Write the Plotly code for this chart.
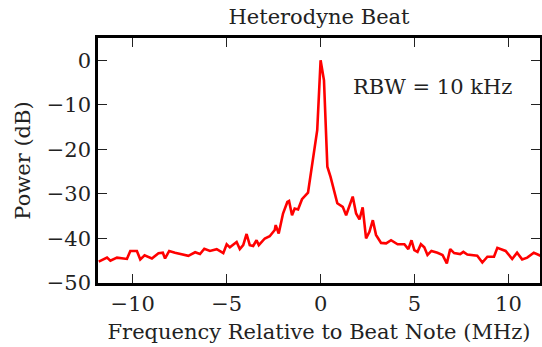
import plotly.graph_objects as go

freq_mhz = [-11.81, -11.37, -11.19, -10.84, -10.31, -10.13, -9.78, -9.60, -9.37, -8.98,
            -8.63, -8.40, -8.28, -8.06, -7.75, -7.04, -6.68, -6.42, -6.19, -5.89,
            -5.53, -5.18, -5.00, -4.83, -4.47, -4.30, -4.12, -3.94, -3.77, -3.59,
            -3.41, -3.29, -2.97, -2.71, -2.44, -2.39, -2.23, -2.00, -1.77, -1.68,
            -1.52, -1.38, -1.20, -0.99, -0.67, -0.18, 0.00, 0.18, 0.36, 0.53,
            0.89, 1.18, 1.36, 1.71, 1.89, 2.07, 2.24, 2.42, 2.60, 2.78,
            2.95, 3.22, 3.49, 3.75, 4.10, 4.46, 4.67, 4.84, 4.99, 5.16,
            5.34, 5.52, 5.69, 5.90, 6.22, 6.49, 6.72, 6.90, 7.11, 7.43,
            7.60, 7.81, 8.34, 8.61, 8.88, 9.23, 9.41, 9.85, 10.20, 10.46,
            10.73, 11.00, 11.35, 11.72]
power_db = [-45.2, -44.3, -45.0, -44.3, -44.6, -42.8, -42.8, -44.7, -43.8, -44.5,
            -43.3, -43.2, -44.5, -42.8, -43.2, -43.9, -43.1, -43.5, -42.3, -42.8,
            -42.4, -43.3, -41.3, -42.0, -40.8, -42.4, -41.5, -39.0, -41.5, -41.7,
            -40.4, -41.5, -40.0, -39.5, -38.1, -37.0, -38.9, -34.4, -31.8, -31.6,
            -34.8, -33.3, -33.5, -31.2, -29.7, -15.7, 0.0, -4.5, -23.9, -26.2,
            -32.1, -32.9, -34.8, -30.6, -34.4, -35.7, -33.0, -40.0, -38.5, -35.9,
            -39.2, -41.0, -41.1, -40.4, -41.3, -41.3, -42.4, -40.4, -42.6, -43.0,
            -41.3, -42.0, -43.7, -42.8, -43.2, -43.7, -45.6, -42.4, -43.3, -43.5,
            -43.0, -43.6, -43.9, -45.4, -44.1, -44.1, -42.1, -42.8, -44.6, -43.2,
            -44.7, -44.3, -43.2, -43.9]

x_ticks = [-10, -5, 0, 5, 10]
y_ticks = [0, -10, -20, -30, -40, -50]
x_tick_text = ["\u221210", "\u22125", "0", "5", "10"]
y_tick_text = ["0", "\u221210", "\u221220", "\u221230", "\u221240", "\u221250"]

font = "DejaVu Serif"
ink = "#222222"

fig = go.Figure()
fig.add_trace(go.Scatter(x=freq_mhz, y=power_db, mode="lines",
                         line=dict(color="#ff0000", width=2.6), showlegend=False))

axis_common = dict(showgrid=False, zeroline=False, showline=True, linecolor="black",
                   linewidth=2.5, mirror="ticks", ticks="inside", ticklen=9,
                   tickwidth=1.2, tickcolor=ink, automargin=False,
                   tickfont=dict(family=font, size=21, color=ink))

fig.update_layout(
    width=542, height=347,
    margin=dict(l=98, r=2, t=38, b=64),
    paper_bgcolor="white", plot_bgcolor="white",
    title=dict(text="Heterodyne Beat", font=dict(family=font, size=21, color=ink),
               x=0.5, xref="paper", xanchor="center",
               y=1 - 17 / 347, yref="container", yanchor="middle", automargin=False),
    xaxis=dict(range=[-11.85, 11.68], tickvals=x_ticks, ticktext=x_tick_text,
               title=dict(text="Frequency Relative to Beat Note (MHz)",
                          font=dict(family=font, size=21, color=ink), standoff=10),
               **axis_common),
    yaxis=dict(range=[-50, 5], tickvals=y_ticks, ticktext=y_tick_text,
               title=dict(text="Power (dB)",
                          font=dict(family=font, size=21, color=ink), standoff=11),
               **axis_common),
    annotations=[dict(text="RBW = 10 kHz", x=0.757, y=0.8, xref="paper", yref="paper",
                      xanchor="center", yanchor="middle", showarrow=False,
                      font=dict(family=font, size=21, color=ink))],
)

fig.write_html("out.html")
